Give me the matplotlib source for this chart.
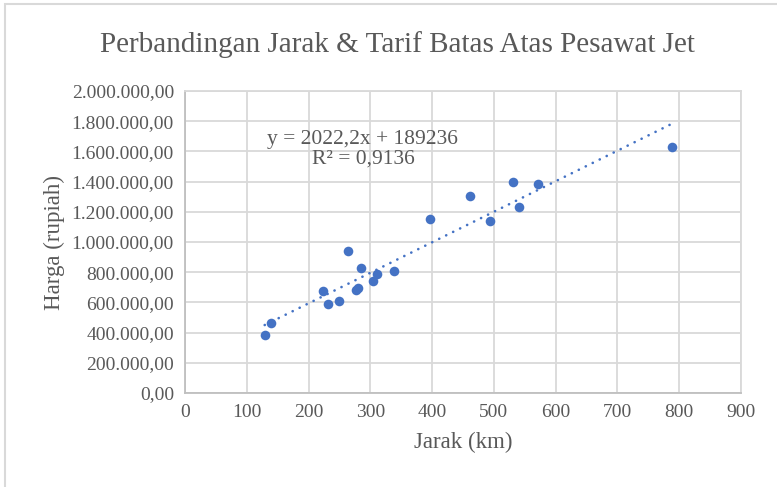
import matplotlib
matplotlib.use('Agg')
import matplotlib.pyplot as plt
from matplotlib.patches import Rectangle
from matplotlib.ticker import FuncFormatter
import numpy as np

# dati: jarak (km) e tarif batas atas (rupiah)
jarak = [129, 139, 224, 231, 249, 264, 276, 280, 285, 304, 311, 339,
         396, 461, 494, 531, 541, 572, 789]
harga = [383000, 463000, 673000, 589000, 611000, 940000, 685000, 695000,
         825000, 743000, 789000, 809000, 1151000, 1305000, 1136000,
         1400000, 1233000, 1385000, 1629000]

# coefficienti della linea di tendenza (dal testo del grafico)
slope = 2022.2
intercept = 189236
r2 = 0.9136

x_ticks = list(range(0, 1000, 100))
y_ticks = list(range(0, 2200000, 200000))

plt.rcParams['font.family'] = ['Liberation Serif', 'DejaVu Serif']
grigio = '#595959'
blu = '#4472C4'
griglia = '#d9d9d9'


def fmt_rupiah(v, pos):
    s = f"{v:,.2f}"
    return s.replace(',', 'X').replace('.', ',').replace('X', '.')


fig = plt.figure(figsize=(7.77, 4.87), dpi=100)
ax = fig.add_axes([185 / 777, 1 - 393 / 487, 556 / 777, 302 / 487])

# bordo esterno del grafico
fig.patches.append(Rectangle((5 / 777, -0.1), 1.2, 1.1 - 4 / 487,
                             transform=fig.transFigure, fill=False,
                             edgecolor=griglia, linewidth=1.5))

ax.scatter(jarak, harga, s=48, color=blu, zorder=3, linewidths=0)

xt = np.array([min(jarak), max(jarak)])
ax.plot(xt, slope * xt + intercept, color=blu, linewidth=1.9,
        linestyle=(0, (0.05, 2.9)), dash_capstyle='round', zorder=2)

ax.set_xlim(0, 900)
ax.set_ylim(0, 2000000)
ax.set_xticks(x_ticks)
ax.set_yticks(y_ticks)
ax.yaxis.set_major_formatter(FuncFormatter(fmt_rupiah))
ax.grid(True, color=griglia, linewidth=1.3, zorder=0)
ax.set_axisbelow(True)
for sp in ax.spines.values():
    sp.set_color(griglia)
    sp.set_linewidth(1.3)
ax.spines['left'].set_color('#bfbfbf')
ax.spines['bottom'].set_color('#bfbfbf')
ax.tick_params(length=0, colors=grigio, labelsize=14, pad=8)

ax.set_xlabel('Jarak (km)', color=grigio, fontsize=16.5, labelpad=8)
ax.set_ylabel('Harga (rupiah)', color=grigio, fontsize=16.5, labelpad=5)

fig.text(397 / 777, 1 - 45 / 487, 'Perbandingan Jarak & Tarif Batas Atas Pesawat Jet',
         ha='center', va='center', fontsize=21, color=grigio)

eq = f"y = {str(slope).replace('.', ',')}x + {intercept}\nR² = {str(r2).replace('.', ',')}"
ax.text(0.32, 0.807, eq, transform=ax.transAxes, ha='center', va='center',
        multialignment='center', fontsize=15.5, color=grigio, linespacing=1.1)

fig.savefig('out.png', dpi=100)
